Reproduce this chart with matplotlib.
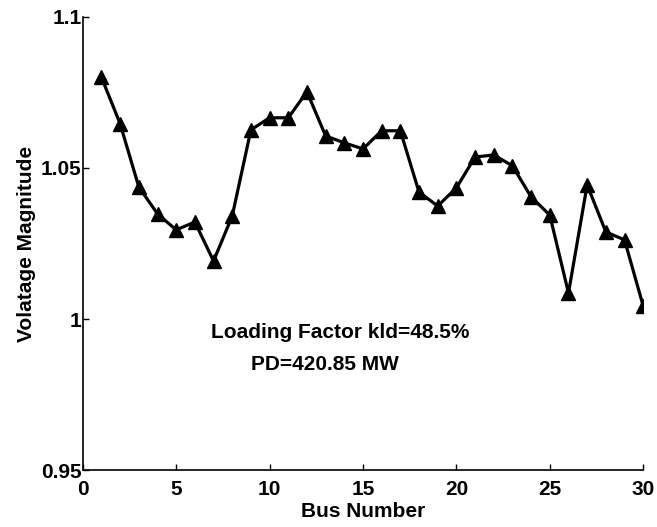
import matplotlib.pyplot as plt

# Napięcia w węzłach
bus = list(range(1, 31))
voltage = [1.080, 1.0646, 1.0437, 1.0348, 1.0295, 1.0321, 1.0192, 1.0341, 1.0626, 1.0666,
           1.0666, 1.0752, 1.0606, 1.0583, 1.0563, 1.0623, 1.0623, 1.0420, 1.0374, 1.0434,
           1.0536, 1.0543, 1.0507, 1.0404, 1.0344, 1.0086, 1.0444, 1.0288, 1.0262, 1.0043]

x_ticks = [0, 5, 10, 15, 20, 25, 30]
y_ticks = [0.95, 1.0, 1.05, 1.1]
y_tick_labels = ['0.95', '1', '1.05', '1.1']

plt.rcParams['font.family'] = ['Liberation Sans', 'DejaVu Sans']
plt.rcParams['font.weight'] = 'bold'

fig = plt.figure(figsize=(6.57, 5.27), dpi=100)
ax = fig.add_axes([0.126, 0.108, 0.853, 0.860])

ax.plot(bus, voltage, color='black', linewidth=2.3, marker='^', markersize=10.5)

ax.set_xlim(0, 30)
ax.set_ylim(0.95, 1.1)
ax.set_xticks(x_ticks)
ax.set_yticks(y_ticks)
ax.set_yticklabels(y_tick_labels)
ax.tick_params(axis='both', direction='in', length=4, width=1, labelsize=15)
ax.tick_params(axis='x', pad=7)
ax.tick_params(axis='y', pad=1)

ax.spines['top'].set_visible(False)
ax.spines['right'].set_visible(False)
ax.spines['left'].set_linewidth(1.2)
ax.spines['bottom'].set_linewidth(1.2)

ax.set_xlabel('Bus Number', fontsize=15, fontweight='bold', labelpad=2)
ax.set_ylabel('Volatage Magnitude', fontsize=15, fontweight='bold', labelpad=3)

# Opisy w środku wykresu
ax.text(13.77, 0.9957, 'Loading Factor kld=48.5%', fontsize=15, fontweight='bold',
        ha='center', va='center')
ax.text(12.96, 0.9851, 'PD=420.85 MW', fontsize=15, fontweight='bold',
        ha='center', va='center')

plt.savefig('out.png', dpi=100)
